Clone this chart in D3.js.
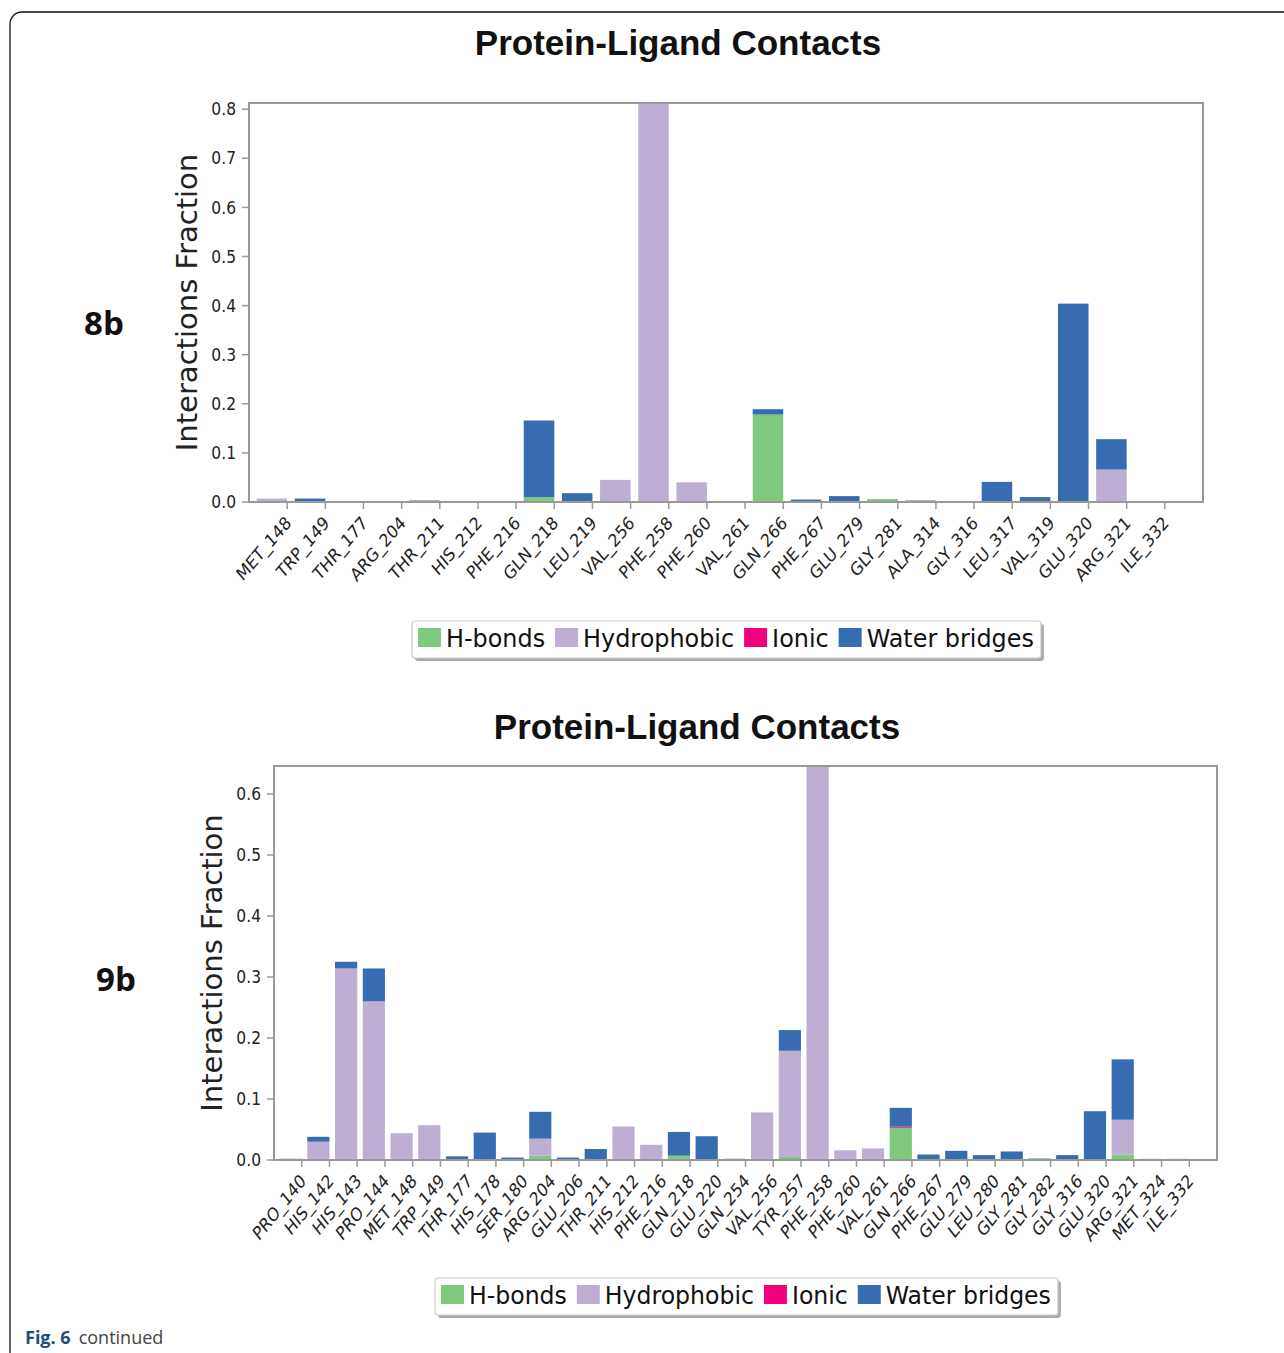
<!DOCTYPE html>
<html>
<head>
<meta charset="utf-8">
<script src="https://cdn.jsdelivr.net/npm/d3@7"></script>
<style>
  body { margin: 0; background: #fff; }
  svg { display: block; }
  .tick-lbl { font-family: "DejaVu Sans", sans-serif; fill: #222; }
</style>
</head>
<body>
<svg id="svg" width="1284" height="1353"></svg>
<script>
// contact types, bottom to top of each stack
const types = ['H-bonds', 'Hydrophobic', 'Ionic', 'Water bridges']
const colors = ['#7fc97f', '#beaed4', '#f0027f', '#386cb0']

// 8b
const res8b = ['MET_148', 'TRP_149', 'THR_177', 'ARG_204', 'THR_211', 'HIS_212', 'PHE_216', 'GLN_218',
	'LEU_219', 'VAL_256', 'PHE_258', 'PHE_260', 'VAL_261', 'GLN_266', 'PHE_267', 'GLU_279', 'GLY_281',
	'ALA_314', 'GLY_316', 'LEU_317', 'VAL_319', 'GLU_320', 'ARG_321', 'ILE_332']
const hbonds8b = [0, 0, 0, 0, 0, 0, 0, 0.01, 0, 0, 0, 0, 0, 0.178, 0, 0, 0.006, 0, 0, 0, 0, 0, 0, 0]
const hydro8b = [0.007, 0, 0, 0, 0, 0.002, 0, 0, 0, 0.045, 0.95, 0.04, 0, 0, 0, 0, 0, 0.004, 0, 0, 0, 0, 0.066, 0]
const ionic8b = [0, 0, 0, 0, 0, 0, 0, 0, 0, 0, 0, 0, 0, 0, 0, 0, 0, 0, 0, 0, 0, 0, 0, 0]
const water8b = [0, 0.007, 0, 0, 0.003, 0, 0, 0.156, 0.018, 0, 0, 0, 0, 0.011, 0.005, 0.012, 0, 0, 0, 0.041, 0.01, 0.404, 0.062, 0]
const ticks8b = [0, 0.1, 0.2, 0.3, 0.4, 0.5, 0.6, 0.7, 0.8]

// 9b
const res9b = ['PRO_140', 'HIS_142', 'HIS_143', 'PRO_144', 'MET_148', 'TRP_149', 'THR_177', 'HIS_178',
	'SER_180', 'ARG_204', 'GLU_206', 'THR_211', 'HIS_212', 'PHE_216', 'GLN_218', 'GLU_220', 'GLN_254',
	'VAL_256', 'TYR_257', 'PHE_258', 'PHE_260', 'VAL_261', 'GLN_266', 'PHE_267', 'GLU_279', 'LEU_280',
	'GLY_281', 'GLY_282', 'GLY_316', 'GLU_320', 'ARG_321', 'MET_324', 'ILE_332']
const hbonds9b = [0, 0, 0, 0, 0, 0, 0, 0, 0, 0.007, 0, 0, 0, 0, 0.007, 0, 0, 0, 0.005, 0, 0, 0, 0.053, 0, 0, 0, 0, 0.003, 0, 0, 0.009, 0, 0]
const hydro9b = [0, 0.03, 0.314, 0.26, 0.044, 0.057, 0, 0, 0, 0.028, 0, 0, 0.055, 0.025, 0, 0, 0, 0.078, 0.174, 0.75, 0.016, 0.019, 0, 0, 0, 0, 0, 0, 0, 0, 0.057, 0.002, 0.002]
const ionic9b = [0, 0, 0, 0, 0, 0, 0, 0, 0, 0, 0, 0, 0, 0, 0, 0, 0, 0, 0, 0, 0, 0, 0.0015, 0, 0, 0, 0, 0, 0, 0, 0, 0, 0]
const water9b = [0.002, 0.008, 0.011, 0.054, 0, 0, 0.006, 0.045, 0.004, 0.044, 0.004, 0.018, 0, 0, 0.039, 0.039, 0.002, 0, 0.034, 0, 0, 0, 0.031, 0.009, 0.015, 0.008, 0.014, 0, 0.008, 0.08, 0.099, 0, 0]
const ticks9b = [0, 0.1, 0.2, 0.3, 0.4, 0.5, 0.6]

const svg = d3.select('#svg')

// page frame
svg.append('rect')
	.attr('x', 10).attr('y', 12)
	.attr('width', 1320).attr('height', 1400)
	.attr('rx', 12)
	.attr('fill', 'none')
	.attr('stroke', '#111')
	.attr('stroke-width', 1.3)

function drawChart(o) {
	const g = svg.append('g')
	const n = o.res.length
	const x = d3.scaleLinear().domain([-0.2, n + 0.8]).range([o.left, o.right])
	const y = d3.scaleLinear().domain([0, o.ymax]).range([o.bottom, o.top])

	const rows = o.res.map((r, i) => ({
		res: r, i,
		'H-bonds': o.hb[i], 'Hydrophobic': o.hy[i], 'Ionic': o.io[i], 'Water bridges': o.wb[i]
	}))
	const stack = d3.stack().keys(types)(rows)

	const clipId = 'clip-' + o.id
	svg.append('clipPath').attr('id', clipId)
		.append('rect')
		.attr('x', o.left).attr('y', o.top)
		.attr('width', o.right - o.left).attr('height', o.bottom - o.top)

	const bars = g.append('g').attr('clip-path', `url(#${clipId})`)
	stack.forEach((layer, k) => {
		bars.append('g')
			.attr('fill', colors[k])
			.selectAll('rect')
			.data(layer.filter(d => d[1] - d[0] > 0))
			.enter().append('rect')
			.attr('x', d => x(d.data.i))
			.attr('width', x(0.8) - x(0))
			.attr('y', d => y(d[1]))
			.attr('height', d => Math.max(1, y(d[0]) - y(d[1])))
	})

	// frame
	g.append('rect')
		.attr('x', o.left).attr('y', o.top)
		.attr('width', o.right - o.left).attr('height', o.bottom - o.top)
		.attr('fill', 'none')
		.attr('stroke', '#999')
		.attr('stroke-width', 2)

	// y axis
	const ya = g.append('g')
	o.ticks.forEach(t => {
		ya.append('line')
			.attr('x1', o.left - 7).attr('x2', o.left)
			.attr('y1', y(t)).attr('y2', y(t))
			.attr('stroke', '#999').attr('stroke-width', 1.5)
		ya.append('text')
			.attr('class', 'tick-lbl')
			.attr('transform', `translate(${o.left - 13},${y(t)}) scale(1,1.1)`)
			.attr('dy', '0.36em')
			.attr('text-anchor', 'end')
			.style('font-size', '15.5px')
			.text(t.toFixed(1))
	})
	g.append('text')
		.attr('transform', `translate(${o.ylabX},${(o.top + o.bottom) / 2 + o.ylabDy}) rotate(-90)`)
		.attr('text-anchor', 'middle')
		.style('font-family', '"DejaVu Sans", sans-serif')
		.style('font-size', '29px')
		.attr('fill', '#222')
		.text('Interactions Fraction')

	// x axis
	const xa = g.append('g')
	o.res.forEach((r, i) => {
		const tx = x(i + 0.8)
		xa.append('line')
			.attr('x1', tx).attr('x2', tx)
			.attr('y1', o.bottom).attr('y2', o.bottom + 7)
			.attr('stroke', '#999').attr('stroke-width', 1.5)
		xa.append('text')
			.attr('class', 'tick-lbl')
			.attr('transform', `translate(${tx + 5},${o.bottom + 22}) scale(1,${o.xstretch}) rotate(-45)`)
			.attr('text-anchor', 'end')
			.style('font-size', o.xfs + 'px')
			.text(r)
	})

	// title
	g.append('text')
		.attr('x', o.titleX).attr('y', o.titleY)
		.attr('text-anchor', 'middle')
		.style('font-family', '"Liberation Sans", Arial, sans-serif')
		.style('font-weight', 'bold')
		.style('font-size', '35px')
		.attr('fill', '#111')
		.text('Protein-Ligand Contacts')

	// panel tag
	g.append('text')
		.attr('x', o.tagX).attr('y', o.tagY)
		.attr('text-anchor', 'middle')
		.style('font-family', '"Open Sans", sans-serif')
		.style('font-weight', 'bold')
		.style('font-size', '33px')
		.attr('fill', '#111')
		.text(o.tag)

	// legend
	const lg = g.append('g')
	const shadow = lg.append('rect')
	const box = lg.append('rect')
	let cx = o.legX + 6
	types.forEach((t, k) => {
		lg.append('rect')
			.attr('x', cx).attr('y', o.legY + 7)
			.attr('width', 23).attr('height', 19)
			.attr('fill', colors[k])
		const txt = lg.append('text')
			.attr('transform', `translate(${cx + 28},${o.legY + 26}) scale(1,1.06)`)
			.style('font-family', '"DejaVu Sans", sans-serif')
			.style('font-size', o.legFs + 'px')
			.attr('fill', '#111')
			.text(t)
		cx += 28 + txt.node().getComputedTextLength() + 10
	})
	const w = cx - o.legX - 3
	shadow.attr('x', o.legX + 3).attr('y', o.legY + 3)
		.attr('width', w).attr('height', 37).attr('rx', 3)
		.attr('fill', '#aaa')
	box.attr('x', o.legX).attr('y', o.legY)
		.attr('width', w).attr('height', 37).attr('rx', 3)
		.attr('fill', '#fff').attr('stroke', '#ccc').attr('stroke-width', 1.2)
}

drawChart({
	id: '8b', res: res8b, hb: hbonds8b, hy: hydro8b, io: ionic8b, wb: water8b, ticks: ticks8b,
	left: 249, right: 1203, top: 103, bottom: 502, ymax: (502 - 103) / 491,
	ylabX: 197, ylabDy: 0, xfs: 15.5, xstretch: 1.17,
	titleX: 678, titleY: 55, tag: '8b', tagX: 104, tagY: 335,
	legX: 412, legY: 621, legFs: 23.9
})

drawChart({
	id: '9b', res: res9b, hb: hbonds9b, hy: hydro9b, io: ionic9b, wb: water9b, ticks: ticks9b,
	left: 274, right: 1217, top: 766, bottom: 1160, ymax: (1160 - 766) / 610,
	ylabX: 222, ylabDy: 0, xfs: 15, xstretch: 1.25,
	titleX: 697, titleY: 739, tag: '9b', tagX: 116, tagY: 991,
	legX: 435, legY: 1278, legFs: 23.6
})

// caption
const cap = svg.append('text')
	.attr('x', 25).attr('y', 1344)
	.style('font-family', '"Open Sans", sans-serif')
	.style('font-size', '18px')
cap.append('tspan').style('font-weight', 'bold').attr('fill', '#1a4f7a').text('Fig. 6')
cap.append('tspan').attr('dx', 8).attr('fill', '#444').text('continued')
</script>
</body>
</html>
